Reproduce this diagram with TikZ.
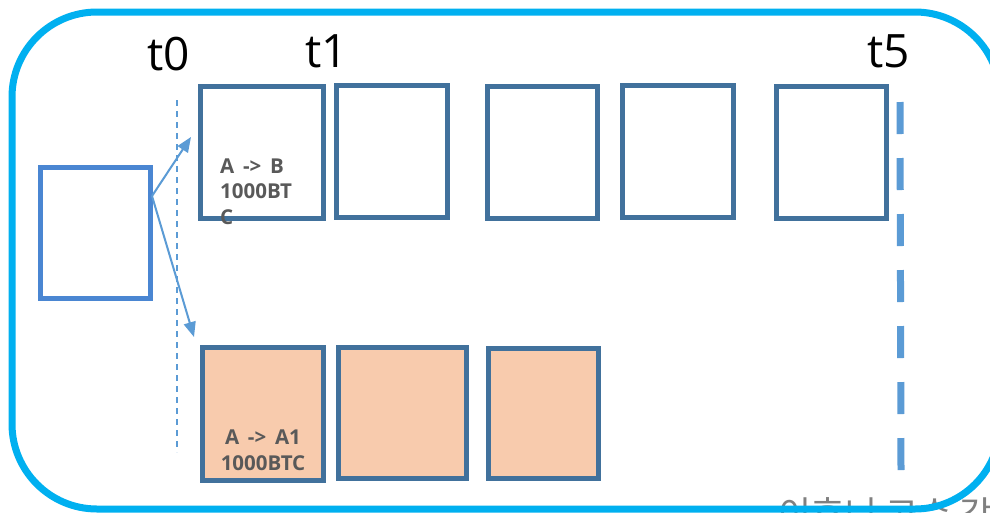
\documentclass[tikz,border=0pt]{standalone}
\usepackage{fontspec}
\setmainfont{Open Sans}
\newfontfamily\krfont{Noto Sans CJK KR}
\usetikzlibrary{arrows.meta}
\definecolor{frameblue}{HTML}{00B0F0}
\definecolor{blockedge}{HTML}{41719C}
\definecolor{srcblue}{HTML}{4A86D2}
\definecolor{arrowblue}{HTML}{5B9BD5}
\definecolor{forkfill}{HTML}{F8CBAD}
\definecolor{txtgray}{HTML}{595959}
\tikzset{
  block/.style={draw=blockedge, line width=5pt, fill=white},
  forkblock/.style={block, fill=forkfill},
  tlabel/.style={font=\fontsize{46}{50}\selectfont, anchor=base, inner sep=0pt},
  txline/.style={font=\bfseries\fontsize{20.5}{22}\selectfont, text=txtgray, inner sep=0pt},
  link/.style={draw=arrowblue, line width=2pt, -{Triangle[length=15pt,width=12pt]}},
}
\begin{document}
\begin{tikzpicture}[x=1pt,y=-1pt]
\useasboundingbox (0,0) rectangle (990,512);
\clip (0,0) rectangle (990,512);
\fill[white] (0,0) rectangle (990,512);

% caption cut by the page edge, lying under the frame
\node[anchor=north west, inner sep=0pt, text=gray, font=\krfont\fontsize{36}{38}\selectfont] (cap) at (778,497) {이후니 고수 강};

% outer rounded frame
\draw[frameblue, line width=7pt, rounded corners=85pt] (12,12) rectangle (1000,509);

% time labels
\node[tlabel] (t0) at (169,70) {t0};
\node[tlabel] (t1) at (327,67) {t1};
\node[tlabel] (t5) at (889,67) {t5};

% fork line at t0
\coordinate (v0a) at (177,100);
\coordinate (v0b) at (177,452);
\draw[arrowblue, line width=1.5pt, dash pattern=on 6pt off 5pt] (v0a) -- (v0b);

% cut line at t5
\coordinate (v5a) at (900,102);
\coordinate (v5b) at (901,470);
\draw[arrowblue, line width=7pt, dash pattern=on 32pt off 24pt] (v5a) -- (v5b);

% source block
\draw[srcblue, line width=5pt] (40,167) rectangle (150,298);
\coordinate (src) at (152,196);

% main chain
\draw[block] (200,86) rectangle (323,218);
\draw[block] (336,85) rectangle (447,217);
\draw[block] (487,86) rectangle (597,218);
\draw[block] (622,85) rectangle (733,217);
\draw[block] (776,86) rectangle (886,218);

% forked chain
\draw[forkblock] (202,347) rectangle (323,480);
\draw[forkblock] (338,347) rectangle (466,478);
\draw[forkblock] (488,348) rectangle (598,478);

% transactions
\node[txline, anchor=base west] (tx1) at (220,173) {A \,-> \,B};
\node[txline, anchor=base west] (tx2) at (220,198) {1000BT};
\node[txline, anchor=base west] (tx3) at (220,224) {C};
\node[txline, anchor=base] (tx4) at (263,444) {A \,-> \,A1};
\node[txline, anchor=base] (tx5) at (263,470) {1000BTC};

% branching arrows
\coordinate (up) at (191,137);
\coordinate (dn) at (194,337);
\draw[link] (src) -- (up);
\draw[link] (src) -- (dn);
\end{tikzpicture}
\end{document}
